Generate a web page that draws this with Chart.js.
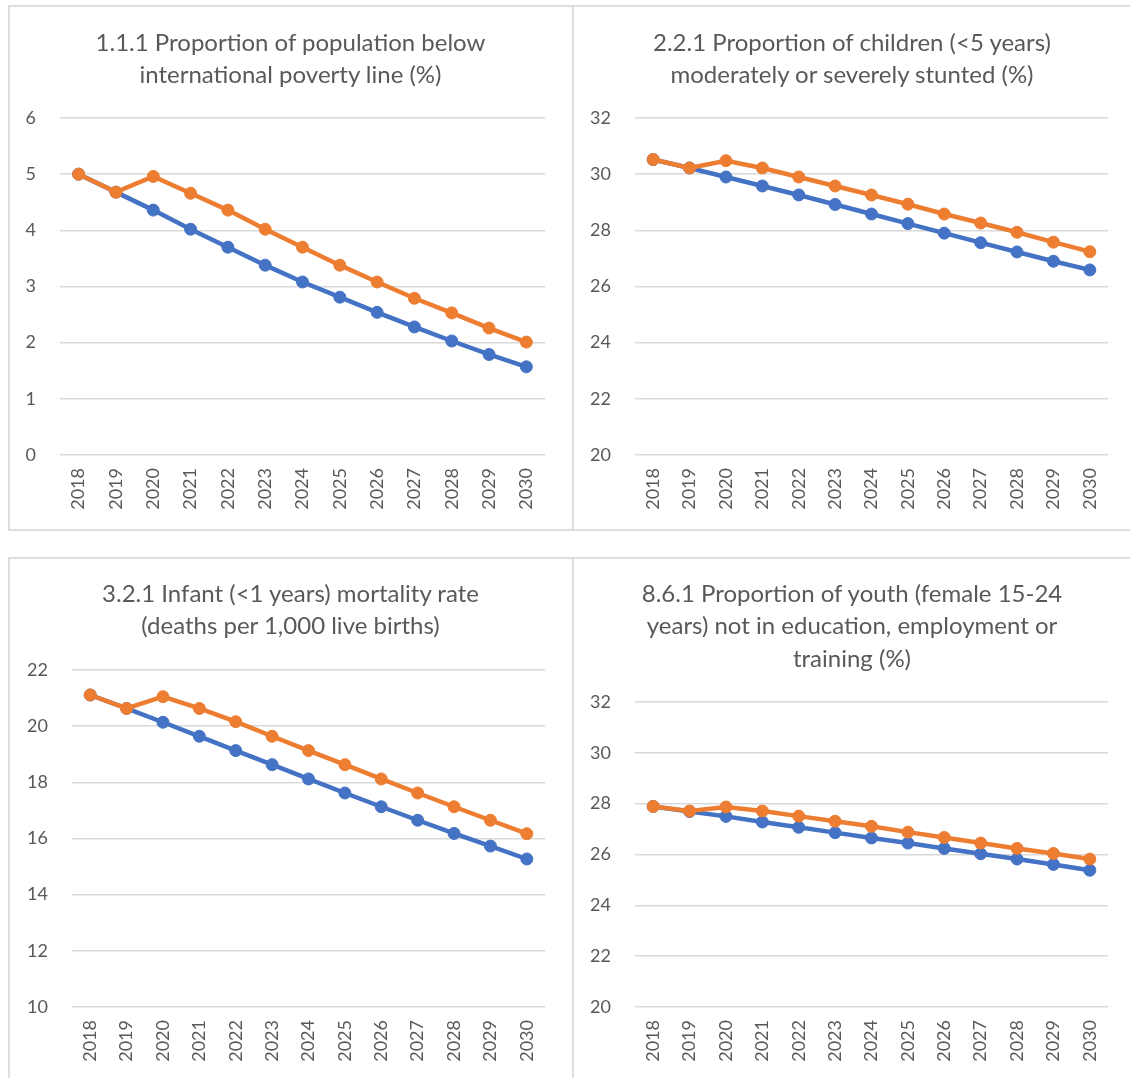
<!DOCTYPE html>
<html>
<head>
<meta charset="utf-8">
<script src="https://cdn.jsdelivr.net/npm/chart.js@4.4.1/dist/chart.umd.min.js"></script>
<style>
  html, body { margin: 0; padding: 0; background: #ffffff; width: 1130px; height: 1078px; overflow: hidden; }
  .frame { position: absolute; border: 2px solid #dedede; box-sizing: border-box; }
  canvas { position: absolute; }
  .title { position: absolute; text-align: center; font-family: Lato, sans-serif; color: #595959; white-space: nowrap; }
</style>
</head>
<body>
<div class="frame" style="left:8px;top:5px;width:566px;height:526px;"></div>
<div class="frame" style="left:572px;top:5px;width:600px;height:526px;"></div>
<div class="frame" style="left:8px;top:557px;width:566px;height:600px;"></div>
<div class="frame" style="left:572px;top:557px;width:600px;height:600px;"></div>
<canvas id="c1"></canvas>
<canvas id="c2"></canvas>
<canvas id="c3"></canvas>
<canvas id="c4"></canvas>
<script>
// ---------- DATA ----------
const years = ['2018','2019','2020','2021','2022','2023','2024','2025','2026','2027','2028','2029','2030'];

const povertyBlue   = [5.00, 4.68, 4.36, 4.02, 3.70, 3.38, 3.08, 2.81, 2.54, 2.28, 2.03, 1.79, 1.57];
const povertyOrange = [5.00, 4.68, 4.96, 4.66, 4.36, 4.02, 3.70, 3.38, 3.08, 2.79, 2.53, 2.26, 2.01];

const stuntingBlue   = [30.52, 30.22, 29.90, 29.58, 29.26, 28.92, 28.58, 28.24, 27.90, 27.56, 27.23, 26.90, 26.59];
const stuntingOrange = [30.52, 30.22, 30.48, 30.22, 29.90, 29.58, 29.26, 28.93, 28.58, 28.26, 27.93, 27.58, 27.24];

const infantBlue   = [21.11, 20.63, 20.14, 19.64, 19.13, 18.63, 18.12, 17.62, 17.13, 16.65, 16.18, 15.73, 15.27];
const infantOrange = [21.11, 20.63, 21.05, 20.63, 20.16, 19.64, 19.13, 18.63, 18.12, 17.62, 17.13, 16.65, 16.17];

const youthBlue   = [27.89, 27.69, 27.50, 27.28, 27.07, 26.86, 26.65, 26.45, 26.24, 26.03, 25.82, 25.61, 25.38];
const youthOrange = [27.89, 27.71, 27.87, 27.71, 27.51, 27.31, 27.11, 26.88, 26.67, 26.45, 26.24, 26.04, 25.82];

const titles = [
  ['1.1.1 Proportion of population below', 'international poverty line (%)'],
  ['2.2.1 Proportion of children (<5 years)', 'moderately or severely stunted (%)'],
  ['3.2.1 Infant (<1 years) mortality rate', '(deaths per 1,000 live births)'],
  ['8.6.1 Proportion of youth (female 15-24', 'years) not in education, employment or', 'training (%)']
];
const yMins  = [0, 20, 10, 20];
const yMaxs  = [6, 32, 22, 32];
const ySteps = [1, 2, 2, 2];

// ---------- LAYOUT (page coordinates) ----------
const panels = [
  { id: 'c1', canvas: {l: 10,  t: 7,   r: 571,  b: 528},  area: {l: 60,  t: 118, r: 545,  b: 455},  title1: 42,  blue: povertyBlue,  orange: povertyOrange },
  { id: 'c2', canvas: {l: 574, t: 7,   r: 1130, b: 528},  area: {l: 635, t: 118, r: 1108, b: 455},  title1: 42,  blue: stuntingBlue, orange: stuntingOrange },
  { id: 'c3', canvas: {l: 10,  t: 559, r: 571,  b: 1078}, area: {l: 72,  t: 670, r: 545,  b: 1007}, title1: 593, blue: infantBlue,   orange: infantOrange },
  { id: 'c4', canvas: {l: 574, t: 559, r: 1130, b: 1078}, area: {l: 635, t: 702, r: 1108, b: 1007}, title1: 593, blue: youthBlue,    orange: youthOrange }
];

const BLUE = '#4472C4';
const ORANGE = '#ED7D31';
const TEXT = '#595959';
const GRID = '#d9d9d9';
const FONT = 'Lato';
const TITLE_SIZE = 24;
const TITLE_LH = 32.5;
const TICK_SIZE = 18;

panels.forEach((p, i) => {
  const cv = document.getElementById(p.id);
  const w = p.canvas.r - p.canvas.l;
  const h = p.canvas.b - p.canvas.t;
  cv.style.left = p.canvas.l + 'px';
  cv.style.top = p.canvas.t + 'px';
  cv.style.width = w + 'px';
  cv.style.height = h + 'px';
  cv.width = w; cv.height = h;

  // title as real HTML text, centred over the panel
  const t = document.createElement('div');
  t.className = 'title';
  t.style.left = p.canvas.l + 'px';
  t.style.width = w + 'px';
  t.style.top = (p.title1 - TITLE_LH / 2) + 'px';
  t.style.fontSize = TITLE_SIZE + 'px';
  t.style.lineHeight = TITLE_LH + 'px';
  titles[i].forEach((line) => {
    const d = document.createElement('div');
    d.textContent = line;
    t.appendChild(d);
  });
  document.body.appendChild(t);

  const padTop = p.area.t - p.canvas.t;
  const padRight = p.canvas.r - p.area.r;
  const yAxisWidth = p.area.l - p.canvas.l;
  const xAxisHeight = p.canvas.b - p.area.b;

  new Chart(cv, {
    type: 'line',
    data: {
      labels: years,
      datasets: [
        { data: p.orange, borderColor: ORANGE, backgroundColor: ORANGE, pointBackgroundColor: ORANGE, pointBorderColor: ORANGE, order: 0 },
        { data: p.blue,   borderColor: BLUE,   backgroundColor: BLUE,   pointBackgroundColor: BLUE,   pointBorderColor: BLUE,   order: 1 }
      ]
    },
    options: {
      responsive: false,
      animation: false,
      devicePixelRatio: 1,
      elements: {
        line: { borderWidth: 4.5, tension: 0 },
        point: { radius: 6, borderWidth: 1, hoverRadius: 6 }
      },
      layout: { padding: { left: 0, right: padRight, top: padTop, bottom: 0 } },
      plugins: {
        legend: { display: false },
        tooltip: { enabled: false },
        title: { display: false }
      },
      scales: {
        x: {
          offset: true,
          grid: { display: false, drawTicks: false },
          border: { display: false },
          ticks: { color: TEXT, font: { family: FONT, size: TICK_SIZE }, minRotation: 90, maxRotation: 90, padding: 13, autoSkip: false },
          afterFit: (s) => { s.height = xAxisHeight; }
        },
        y: {
          min: yMins[i], max: yMaxs[i],
          grid: { color: GRID, lineWidth: 1.5, drawTicks: false },
          border: { display: false },
          ticks: { color: TEXT, font: { family: FONT, size: TICK_SIZE }, stepSize: ySteps[i], padding: 24 },
          afterFit: (s) => { s.width = yAxisWidth; }
        }
      }
    }
  });
});
</script>
</body>
</html>
